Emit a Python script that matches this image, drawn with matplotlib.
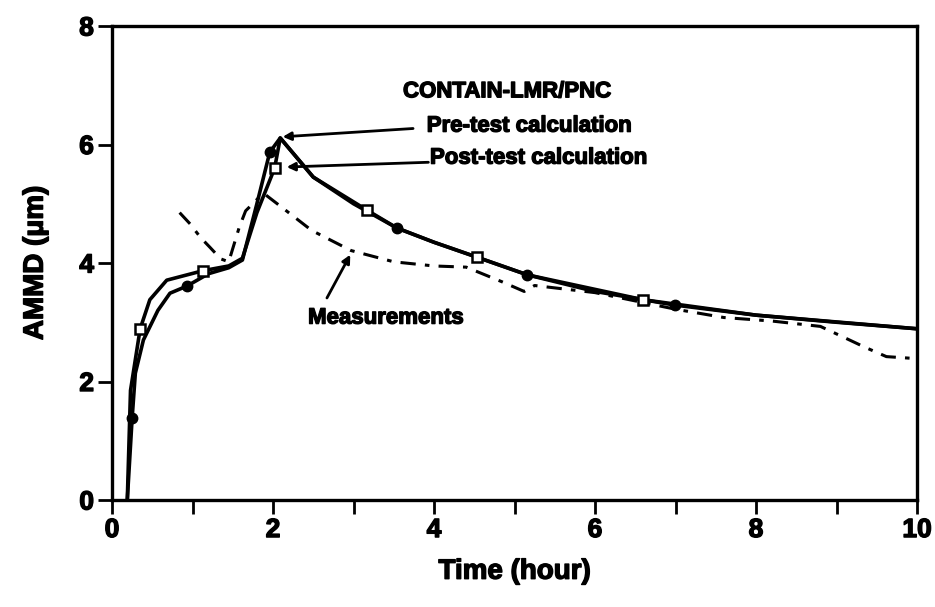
import matplotlib.pyplot as plt
import matplotlib.patheffects as pe
import numpy as np

plt.rcParams['font.family'] = ['Liberation Sans', 'DejaVu Sans']
plt.rcParams['font.weight'] = 'bold'

# heavier lettering
heavy = [pe.withStroke(linewidth=1.0, foreground='k')]

# pre-test calculation (filled circles)
pre_t = [0.19, 0.25, 0.29, 0.39, 0.57, 0.72, 0.93, 1.20, 1.45, 1.62, 1.80, 1.96,
         2.09, 2.50, 3.00, 3.54, 4.00, 4.53, 5.16, 6.00, 6.99, 8.00, 9.00, 10.0]
pre_v = [0.00, 1.38, 2.14, 2.70, 3.20, 3.49, 3.61, 3.82, 3.92, 4.05, 5.00, 5.87,
         6.11, 5.45, 5.00, 4.59, 4.35, 4.10, 3.80, 3.52, 3.29, 3.12, 3.00, 2.89]
pre_marks = [1, 6, 11, 15, 18, 20]

# post-test calculation (open squares)
post_t = [0.19, 0.23, 0.35, 0.47, 0.68, 1.13, 1.45, 1.62, 1.80, 2.02, 2.09, 2.50,
          3.17, 3.54, 4.00, 4.53, 5.16, 6.60, 8.00, 10.0]
post_v = [0.00, 1.85, 2.89, 3.38, 3.71, 3.87, 3.95, 4.08, 4.85, 5.60, 6.11, 5.45,
          4.89, 4.59, 4.35, 4.10, 3.80, 3.38, 3.12, 2.89]
post_marks = [2, 5, 9, 12, 15, 17]

# measurements
meas_t = [0.84, 0.97, 1.10, 1.22, 1.35, 1.45, 1.58, 1.66, 1.88, 2.10, 2.48, 2.97,
          3.50, 4.00, 4.40, 4.85, 5.12, 5.25, 6.00, 7.00, 7.60, 8.20, 8.80, 9.10,
          9.35, 9.62, 9.95]
meas_v = [4.85, 4.66, 4.43, 4.26, 4.07, 4.02, 4.60, 4.88, 5.18, 4.95, 4.55, 4.21,
          4.02, 3.95, 3.93, 3.68, 3.52, 3.62, 3.50, 3.22, 3.08, 3.02, 2.93, 2.74,
          2.58, 2.42, 2.39]

fig = plt.figure(figsize=(9.35, 6.07), dpi=100)
ax = fig.add_axes([112/935, 1-500/607, (917-112)/935, (500-26)/607])

ax.plot(meas_t, meas_v, color='k', lw=2.2, ls=(0, (5, 3, 1.5, 3)))
ax.plot(pre_t, pre_v, color='k', lw=2.6, marker='o', ms=7.5,
        markevery=pre_marks, mfc='k', mec='k')
ax.plot(post_t, post_v, color='k', lw=2.6, marker='s', ms=6.5,
        markevery=post_marks, mfc='white', mec='k', mew=1.8)

ax.set_xlim(0, 10)
ax.set_ylim(0, 8)
ax.set_xticks(np.arange(0, 11, 2))
ax.set_xticks(np.arange(1, 10, 2), minor=True)
ax.set_yticks(np.arange(0, 9, 2))
ax.tick_params(axis='both', which='both', direction='out', length=10, width=2,
               labelsize=19, pad=3)
for s in ax.spines.values():
    s.set_linewidth(2.4)
for lab in ax.get_xticklabels() + ax.get_yticklabels():
    lab.set_path_effects(heavy)

ax.set_xlabel('Time (hour)', fontsize=20, fontweight='bold', labelpad=12,
              path_effects=heavy)
ax.set_ylabel('AMMD (\u03bcm)', fontsize=20, fontweight='bold', labelpad=22,
              path_effects=heavy)

tsize = 16
ax.text(4.91, 6.89, 'CONTAIN-LMR/PNC', fontsize=tsize, ha='center', va='center',
        path_effects=heavy)
ax.text(3.91, 6.31, 'Pre-test calculation', fontsize=tsize, ha='left', va='center',
        path_effects=heavy)
ax.text(3.95, 5.77, 'Post-test calculation', fontsize=tsize, ha='left', va='center',
        path_effects=heavy)
ax.text(3.40, 3.07, 'Measurements', fontsize=tsize, ha='center', va='center',
        path_effects=heavy)

arrow = dict(arrowstyle='-|>', color='k', lw=2, mutation_scale=12,
             shrinkA=0, shrinkB=0)
ax.annotate('', xy=(2.12, 6.13), xytext=(3.74, 6.27), arrowprops=arrow)
ax.annotate('', xy=(2.17, 5.62), xytext=(3.93, 5.70), arrowprops=arrow)
ax.annotate('', xy=(2.96, 4.14), xytext=(2.67, 3.41), arrowprops=arrow)

fig.savefig('out.png', dpi=100)
